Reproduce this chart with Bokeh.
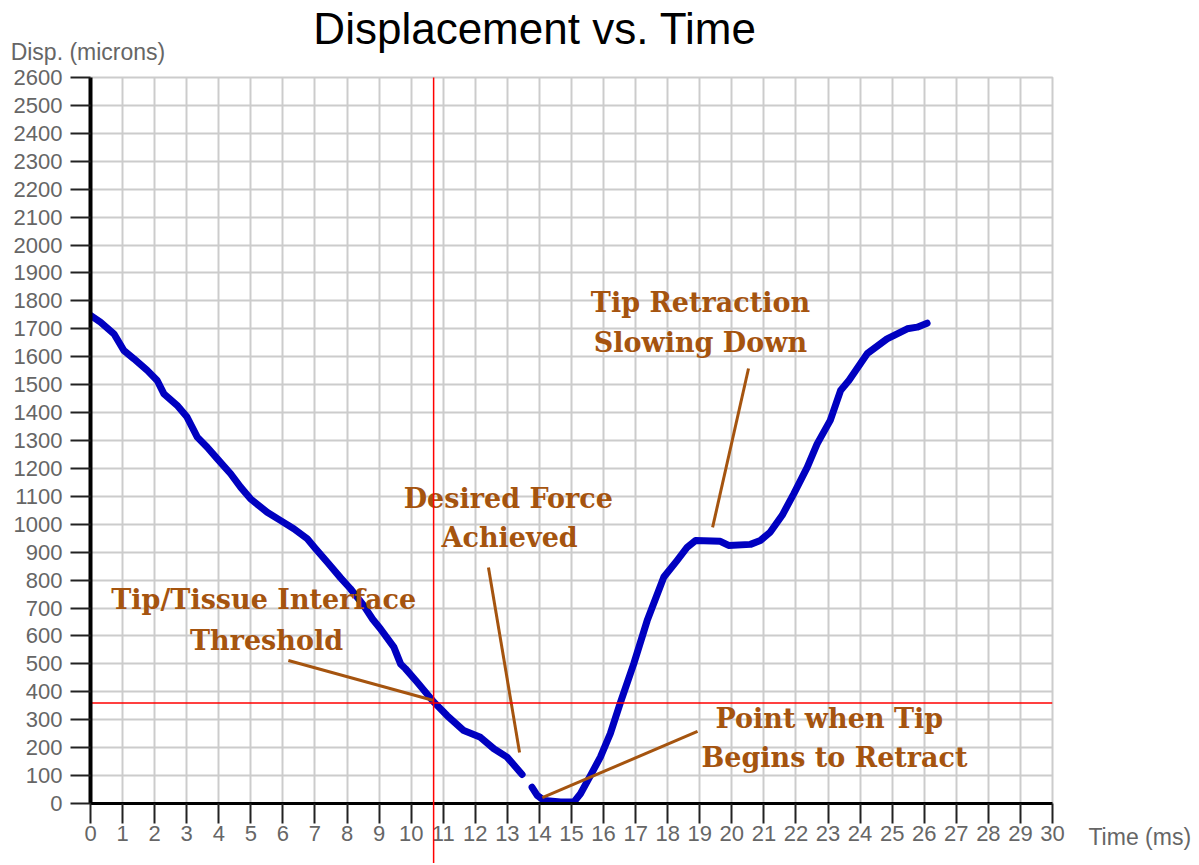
from bokeh.plotting import figure
from bokeh.models import Range1d, FixedTicker
from bokeh.embed import file_html
from bokeh.resources import INLINE
from bokeh.core.properties import value

# ---- data ----
time_approach = [0.0, 0.31, 0.73, 1.04, 1.35, 1.77, 2.08, 2.29, 2.70, 3.01, 3.33, 3.64, 3.95,
                 4.37, 4.68, 4.99, 5.51, 5.92, 6.34, 6.76, 7.0, 7.4, 7.8, 8.1, 8.5, 8.8,
                 9.04, 9.46, 9.67, 9.82, 10.19, 10.71, 11.12, 11.64, 12.16, 12.58, 12.99, 13.46]
disp_approach = [1748, 1724, 1682, 1622, 1593, 1551, 1515, 1467, 1426, 1384, 1312, 1276, 1235,
                 1181, 1133, 1091, 1043, 1014, 984, 948, 915, 862, 808, 770, 712, 660,
                 626, 560, 500, 483, 434, 363, 315, 261, 237, 196, 166, 104]

time_retract = [13.77, 13.93, 14.14, 14.66, 15.07, 15.28, 15.59, 15.90, 16.21, 16.53, 16.94,
                17.36, 17.88, 18.29, 18.61, 18.87, 19.64, 19.90, 20.58, 20.89, 21.20, 21.57,
                21.93, 22.35, 22.66, 23.07, 23.39, 23.65, 24.22, 24.84, 25.47, 25.78, 26.09]
disp_retract = [58, 29, 11, 5, 5, 35, 100, 166, 250, 363, 500,
                655, 811, 870, 918, 942, 939, 924, 928, 942, 972, 1032,
                1109, 1204, 1288, 1372, 1479, 1515, 1611, 1664, 1700, 1706, 1720]

x_ticks = list(range(0, 31))
y_ticks = list(range(0, 2700, 100))

threshold_time = 10.7
threshold_disp = 360

chart_title = "Displacement vs. Time"
x_title = "Time (ms)"
y_title = "Disp. (microns)"

note_text = ["Tip/Tissue Interface", "Threshold", "Desired Force", "Achieved",
             "Tip Retraction", "Slowing Down", "Point when Tip", "Begins to Retract"]
note_x = [5.40, 5.49, 13.03, 13.07, 19.02, 19.02, 23.04, 23.2]
note_y = [732, 584, 1094, 951, 1793, 1651, 303, 163]

leader_x0 = [6.17, 12.41, 20.52, 14.09]
leader_y0 = [512, 845, 1558, 21]
leader_x1 = [10.70, 13.38, 19.40, 18.93]
leader_y1 = [369, 183, 989, 258]

BLUE = "#0000c0"
BROWN = "#a5540f"
GREY_TXT = "#666666"

p = figure(frame_width=962, frame_height=726,
           x_range=Range1d(0, 30), y_range=Range1d(0, 2600),
           output_backend="svg", toolbar_location=None, title=None,
           min_border_left=90, min_border_right=140,
           min_border_top=77, min_border_bottom=60)

p.outline_line_color = "#cccccc"
p.outline_line_width = 2
p.background_fill_color = "white"
p.border_fill_color = "white"

for ax, ticks, lw in ((p.xaxis[0], x_ticks, 3), (p.yaxis[0], y_ticks, 4)):
    ax.ticker = FixedTicker(ticks=ticks, minor_ticks=[])
    ax.axis_line_color = "black"
    ax.axis_line_width = lw
    ax.major_tick_out = 20
    ax.major_tick_in = 0
    ax.major_tick_line_color = "#222222"
    ax.major_tick_line_width = 2
    ax.minor_tick_line_color = None
    ax.major_label_text_font = "Liberation Sans"
    ax.major_label_text_font_size = "22px"
    ax.major_label_text_color = GREY_TXT
p.xaxis.major_label_standoff = 2
p.yaxis.major_label_standoff = 8

p.xgrid.ticker = FixedTicker(ticks=x_ticks, minor_ticks=[])
p.ygrid.ticker = FixedTicker(ticks=y_ticks, minor_ticks=[])
p.grid.grid_line_color = "#cccccc"
p.grid.grid_line_width = 2

# data curve (two pieces, with the gap seen in the reference)
for tx, dy in ((time_approach, disp_approach), (time_retract, disp_retract)):
    p.line(tx, dy, line_color=BLUE, line_width=7, line_join="round", line_cap="round")

# leader lines
p.segment(x0=leader_x0, y0=leader_y0, x1=leader_x1, y1=leader_y1,
          line_color=BROWN, line_width=3)

# annotation text
p.text(x=note_x, y=note_y, text=note_text, text_font=value("DejaVu Serif"),
       text_font_style="bold", text_font_size="27px", text_color=BROWN,
       text_align="center", text_baseline="alphabetic")

# red threshold lines
p.segment(x0=[threshold_time], y0=[-300], x1=[threshold_time], y1=[2600],
          line_color="#ff0000", line_width=1.5, level="overlay")
p.segment(x0=[0], y0=[threshold_disp], x1=[30], y1=[threshold_disp],
          line_color="#ff0000", line_width=1.5)

# titles
p.text(x=[6.95], y=[2776], text=[chart_title], text_font=value("Liberation Sans"),
       text_font_size="44px", text_color="black", text_align="left",
       text_baseline="alphabetic", level="overlay")
p.text(x=[31.12], y=[-121], text=[x_title], text_font=value("Liberation Sans"),
       text_font_size="23px", text_color=GREY_TXT, text_align="left",
       text_baseline="alphabetic", level="overlay")
p.text(x=[-2.49], y=[2690], text=[y_title], text_font=value("Liberation Sans"),
       text_font_size="23px", text_color=GREY_TXT, text_align="left",
       text_baseline="alphabetic", level="overlay")

open("out.html", "w").write(file_html(p, INLINE))
